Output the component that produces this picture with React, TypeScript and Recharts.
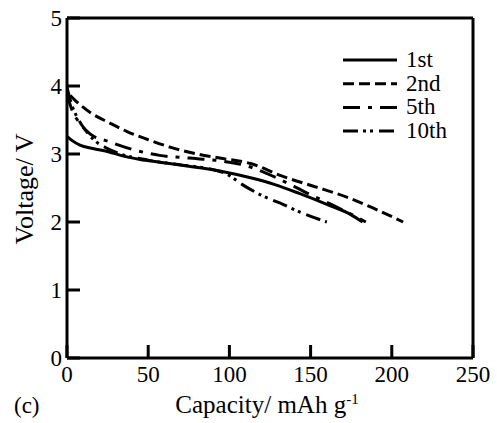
import React from 'react';
import { LineChart, Line, XAxis, YAxis } from 'recharts';

const xTicks = [0, 50, 100, 150, 200, 250];
const yTicks = [0, 1, 2, 3, 4, 5];
const seriesNames = ['1st', '2nd', '5th', '10th'];

const cap1st = [0, 3, 8, 16, 26, 33, 45, 57, 75, 94, 113, 128, 143, 160, 174, 182];
const volt1st = [3.26, 3.2, 3.13, 3.08, 3.03, 2.98, 2.92, 2.88, 2.82, 2.75, 2.65, 2.55, 2.42, 2.26, 2.12, 2.0];

const cap2nd = [2, 5, 15, 26, 37, 50, 65, 80, 94, 113, 133, 154, 174, 188, 207];
const volt2nd = [3.86, 3.79, 3.6, 3.46, 3.33, 3.21, 3.09, 3.0, 2.94, 2.86, 2.67, 2.51, 2.35, 2.21, 2.0];

const cap5th = [0, 3, 8, 14, 26, 37, 57, 75, 94, 110, 129, 141, 150, 160, 172, 184];
const volt5th = [3.88, 3.65, 3.45, 3.3, 3.18, 3.09, 2.98, 2.94, 2.9, 2.83, 2.65, 2.51, 2.4, 2.29, 2.15, 2.0];

const cap10th = [0, 3, 6, 9, 16, 25, 33, 50, 70, 90, 98, 108, 120, 131, 145, 160];
const volt10th = [3.98, 3.72, 3.55, 3.43, 3.22, 3.08, 3.0, 2.91, 2.84, 2.77, 2.71, 2.55, 2.39, 2.28, 2.13, 2.0];

const toPoints = (caps: number[], volts: number[]) => caps.map((c, i) => ({ cap: c, v: volts[i] }));

const data1st = toPoints(cap1st, volt1st);
const data2nd = toPoints(cap2nd, volt2nd);
const data5th = toPoints(cap5th, volt5th);
const data10th = toPoints(cap10th, volt10th);

const dashes = ['', '11 5', '17 8 4 8', '15 5 3 4 3 6'];
const font = 'Liberation Serif';

function XTick(props: any) {
  const { x, y, payload } = props;
  return (
    <text x={x} y={y} dy={17} textAnchor="middle" fontSize={23} fontFamily={font} fill="#000">
      {payload.value}
    </text>
  );
}

function YTick(props: any) {
  const { x, y, payload } = props;
  return (
    <text x={x} y={y} dy={8} textAnchor="end" fontSize={23} fontFamily={font} fill="#000">
      {payload.value}
    </text>
  );
}

// legend is drawn as an overlay so it does not take space from the plot
function LegendBox() {
  return (
    <svg width={140} height={100} style={{ position: 'absolute', left: 335, top: 45 }}>
      {seriesNames.map((name, i) => {
        const y = 15 + i * 23.7;
        return (
          <g key={name}>
            <line x1={8} x2={62} y1={y} y2={y} stroke="#000" strokeWidth={3} strokeDasharray={dashes[i]} />
            <text x={71} y={y + 7} fontSize={23} fontFamily={font} fill="#000">{name}</text>
          </g>
        );
      })}
    </svg>
  );
}

export default function App() {
  const axisLine = { stroke: '#000', strokeWidth: 3 };
  const tickLine = { stroke: '#000', strokeWidth: 3 };
  return (
    <div style={{ position: 'absolute', left: 0, top: 0, width: 497, height: 423, background: '#fff', fontFamily: font }}>
      <LineChart width={497} height={423} margin={{ top: 17, right: 23, bottom: 35, left: 0 }}>
        <XAxis
          xAxisId="b"
          dataKey="cap"
          type="number"
          domain={[0, 250]}
          ticks={xTicks}
          allowDataOverflow
          height={30}
          axisLine={axisLine}
          tickLine={tickLine}
          tickSize={-13}
          tickMargin={20}
          tick={<XTick />}
        />
        <XAxis
          xAxisId="t"
          orientation="top"
          dataKey="cap"
          type="number"
          domain={[0, 250]}
          ticks={xTicks}
          height={1}
          axisLine={axisLine}
          tickLine={tickLine}
          tickSize={-13}
          tickFormatter={() => ''}
        />
        <YAxis
          yAxisId="l"
          type="number"
          domain={[0, 5]}
          ticks={yTicks}
          width={67}
          axisLine={axisLine}
          tickLine={tickLine}
          tickSize={-13}
          tickMargin={18}
          tick={<YTick />}
        />
        <YAxis
          yAxisId="r"
          orientation="right"
          type="number"
          domain={[0, 5]}
          ticks={yTicks}
          width={1}
          axisLine={axisLine}
          tickLine={tickLine}
          tickSize={-13}
          tickFormatter={() => ''}
        />
        {[data1st, data2nd, data5th, data10th].map((d, i) => (
          <Line
            key={seriesNames[i]}
            name={seriesNames[i]}
            data={d}
            xAxisId="b"
            yAxisId="l"
            dataKey="v"
            type="monotone"
            stroke="#000"
            strokeWidth={3}
            strokeDasharray={dashes[i] || undefined}
            dot={false}
            isAnimationActive={false}
          />
        ))}
      </LineChart>
      <LegendBox />
      <div style={{ position: 'absolute', left: 25, top: 189, transform: 'translate(-50%, -50%) rotate(-90deg)', fontSize: 26, whiteSpace: 'nowrap' }}>
        Voltage/ V
      </div>
      <div style={{ position: 'absolute', left: 267, top: 391, transform: 'translateX(-50%)', fontSize: 25, whiteSpace: 'nowrap' }}>
        Capacity/ mAh g<sup style={{ fontSize: 15 }}>-1</sup>
      </div>
      <div style={{ position: 'absolute', left: 14, top: 393, fontSize: 23 }}>(c)</div>
    </div>
  );
}
